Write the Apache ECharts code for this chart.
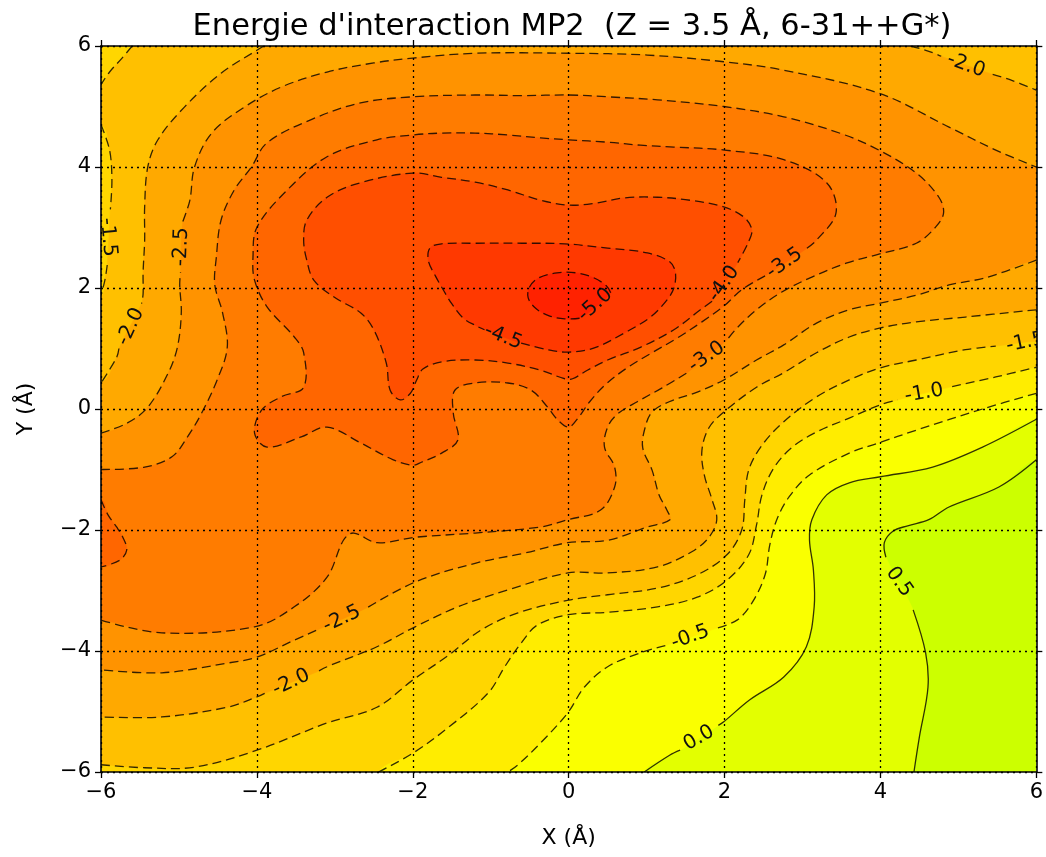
<!DOCTYPE html>
<html>
<head>
<meta charset="utf-8">
<script src="https://cdn.jsdelivr.net/npm/echarts@6/dist/echarts.min.js"></script>
<style>
html,body{margin:0;padding:0;background:#fff;}
#chart{width:1046px;height:857px;}
</style>
</head>
<body>
<div id="chart"></div>
<script>
// Axis ticks (Å)
const X_TICKS = [-6, -4, -2, 0, 2, 4, 6];
const Y_TICKS = [-6, -4, -2, 0, 2, 4, 6];

// Contour levels (kcal/mol) and the fill colour of each band, lowest band first
const LEVELS = [-5.0, -4.5, -4.0, -3.5, -3.0, -2.5, -2.0, -1.5, -1.0, -0.5, 0.0, 0.5];
const BAND_COLORS = ['#ff2200', '#ff3900', '#ff4f00', '#ff6600', '#ff7c00', '#ff9300',
  '#ffa900', '#ffc000', '#ffd600', '#ffed00', '#faff00', '#e3ff00', '#ccff00'];

// Contour lines in (X, Y) Å; null marks the gap left for an inline label
const C_M50 = [[0.14,1.5],[-0.05,1.49],[-0.25,1.54],[-0.42,1.66],[-0.52,1.84],[-0.5,2.02],[-0.38,2.17],[-0.15,2.25],[0.1,2.25],[0.32,2.17],[0.48,2.04],[0.54,1.92],null];
const C_M45 = [[-0.61,1.09],[-0.27,0.98],[0.0,0.94],[0.33,1.01],[0.72,1.26],[1.05,1.52],[1.26,1.8],[1.35,2.0],[1.37,2.25],[1.3,2.43],[1.01,2.58],[0.5,2.66],[-0.05,2.73],[-0.6,2.74],[-1.2,2.74],[-1.63,2.73],[-1.78,2.66],[-1.8,2.45],[-1.71,2.2],[-1.6,1.95],[-1.5,1.74],[-1.35,1.5],[-1.18,1.37],[-1.08,1.31],null];
const C_M40 = [[1.84,1.78],[1.69,1.64],[1.35,1.31],[0.92,1.02],[0.5,0.81],[0.24,0.64],[0.05,0.5],[-0.05,0.5],[-0.36,0.64],[-0.78,0.76],[-1.2,0.81],[-1.63,0.78],[-1.87,0.66],[-1.95,0.48],[-2.03,0.26],[-2.16,0.15],[-2.29,0.31],[-2.34,0.76],[-2.5,1.31],[-2.67,1.59],[-3.01,1.85],[-3.27,2.13],[-3.36,2.46],[-3.4,2.79],[-3.36,3.12],[-3.1,3.5],[-2.67,3.74],[-2.0,3.9],[-1.63,3.83],[-1.2,3.75],[-0.78,3.62],[-0.36,3.45],[0.0,3.37],[0.33,3.4],[0.72,3.49],[1.14,3.5],[1.56,3.45],[1.99,3.34],[2.25,3.17],[2.35,2.96],[2.3,2.74],[2.17,2.42],null];
const C_M35 = [[2.52,2.2],[2.22,1.97],[1.99,1.7],[1.71,1.44],[1.39,1.17],[1.07,0.93],[0.75,0.68],[0.47,0.4],[0.27,0.12],[0.12,-0.15],[0.0,-0.3],[-0.14,-0.18],[-0.27,0.03],[-0.48,0.31],[-0.78,0.43],[-1.2,0.43],[-1.46,0.31],[-1.48,-0.07],[-1.42,-0.51],[-1.63,-0.73],[-1.89,-0.88],[-2.0,-0.93],[-2.25,-0.84],[-2.67,-0.56],[-3.1,-0.3],[-3.43,-0.46],[-3.87,-0.63],[-4.03,-0.4],[-3.94,-0.02],[-3.69,0.2],[-3.4,0.36],[-3.4,0.93],[-3.52,1.19],[-3.87,1.69],[-4.03,2.13],[-4.05,2.51],[-4.0,3.0],[-3.61,3.62],[-3.1,4.17],[-2.46,4.45],[-2.0,4.53],[-1.63,4.56],[-1.2,4.56],[-0.78,4.53],[-0.36,4.48],[0.0,4.45],[0.5,4.41],[0.92,4.36],[1.35,4.33],[2.0,4.28],[2.76,4.12],[3.31,3.74],[3.43,3.24],[3.18,2.79],[3.05,2.65],null];
const C_M35_EDGE = [[-6,-1.5],[-5.91,-1.75],[-5.8,-1.95],[-5.72,-2.12],[-5.67,-2.33],[-5.76,-2.5],[-6,-2.61]];
const C_M30 = [[-6,-1.0],[-5.44,-0.96],[-5.09,-0.79],[-4.89,-0.46],[-4.71,-0.07],[-4.51,0.48],[-4.38,1.02],[-4.44,1.59],[-4.54,2.05],[-4.52,2.51],[-4.46,3.12],[-4.29,3.62],[-4.07,4.0],[-3.87,4.4],[-3.31,4.78],[-2.67,5.06],[-2.0,5.16],[-1.2,5.19],[-0.6,5.18],[0,5.19],[0.5,5.16],[1.14,5.11],[1.99,5.0],[2.76,4.83],[3.5,4.55],[3.98,4.28],[4.46,3.9],[4.75,3.5],[4.81,3.24],[4.71,3.01],[4.46,2.74],[3.98,2.56],[3.56,2.41],[3.12,2.18],[2.73,1.93],[2.41,1.64],[2.16,1.34],[2.03,1.14],null,[1.51,0.59],[1.2,0.35],[0.88,0.12],[0.63,-0.08],[0.5,-0.3],[0.46,-0.63],[0.59,-0.96],[0.59,-1.29],[0.41,-1.67],[-0.01,-1.83],[-0.36,-1.95],[-1.2,-2.05],[-1.97,-2.12],[-2.46,-2.21],[-2.76,-2.05],[-2.89,-2.17],[-3.1,-2.78],[-3.52,-3.27],[-4.03,-3.6],[-5.22,-3.7],[-6,-3.49]];
const C_M25_UP = [[-6,-0.4],[-5.66,-0.23],[-5.4,0.03],[-5.14,0.59],[-5.02,1.02],[-4.97,1.59],[-4.99,2.05],[-4.98,2.26],null,[-4.95,3.1],[-4.86,3.45],[-4.8,4.0],[-4.58,4.56],[-4.16,4.99],[-3.69,5.32],[-3.1,5.57],[-2.5,5.72],[-2.0,5.8],[-1.2,5.88],[0,5.88],[1.01,5.85],[1.99,5.74],[2.76,5.6],[3.98,5.22],[4.88,4.66],[5.48,4.28],[6,4.0]];
const C_M25_LOW = [[6,2.46],[5.35,2.17],[4.88,2.05],[4.46,1.88],[4.0,1.75],[3.6,1.64],[3.18,1.42],[2.76,1.06],[2.41,0.81],[1.99,0.48],[1.65,0.28],[1.29,0.12],[1.07,-0.05],[0.98,-0.31],[0.95,-0.64],[1.07,-1.01],[1.16,-1.42],[1.26,-1.67],[1.3,-1.83],[1.01,-1.95],[0.5,-2.17],[-0.01,-2.21],[-0.56,-2.38],[-1.2,-2.55],[-1.97,-2.86],[-2.58,-3.28],null,[-3.24,-3.66],[-3.52,-3.82],[-4.0,-4.1],[-4.38,-4.2],[-5.22,-4.36],[-6,-4.31]];
const C_M20_TL = [[-3.91,6],[-4.0,5.93],[-4.46,5.55],[-4.93,4.99],[-5.27,4.45],[-5.4,4.0],[-5.44,3.34],[-5.44,2.79],[-5.46,2.25],[-5.46,1.9],[-5.48,1.74],null,[-5.77,1.0],[-5.8,0.85],[-6,0.43]];
const C_M20_TR = [[4.39,6],[4.65,5.9],[4.78,5.83],null,[5.44,5.53],[5.67,5.44],[6,5.27]];
const C_M20_LOW = [[6,1.64],[5.09,1.52],[4.46,1.44],[4.0,1.34],[3.6,1.19],[3.18,0.93],[2.76,0.6],[2.41,0.36],[1.99,-0.05],[1.8,-0.31],[1.71,-0.68],[1.74,-1.09],[1.84,-1.5],[1.9,-1.83],[1.8,-2.12],[1.58,-2.36],[1.14,-2.61],[0.5,-2.71],[-0.01,-2.71],[-0.78,-2.99],[-1.42,-3.27],[-1.97,-3.6],[-2.46,-3.93],[-3.1,-4.26],[-3.22,-4.34],null,[-3.9,-4.7],[-4.0,-4.76],[-4.38,-4.93],[-5.22,-5.09],[-6,-5.09]];
const C_M15_CORNER = [[-5.6,6],[-5.73,5.8],[-5.89,5.57],[-6,5.36]];
const C_M15_EDGE = [[-6,4.7],[-5.89,4.28],[-5.86,3.79],[-5.88,3.3],null,[-5.92,2.38],[-5.95,2.13],[-6,1.88]];
const C_M15 = [[-6,-5.88],[-5.44,-5.93],[-4.8,-5.92],[-4.0,-5.64],[-3.1,-5.19],[-2.46,-4.93],[-2.0,-4.48],[-1.54,-4.07],[-1.12,-3.65],[-0.65,-3.37],[0,-3.16],[0.5,-3.07],[1.14,-2.96],[1.65,-2.74],[2.03,-2.41],[2.22,-2.0],[2.26,-1.5],[2.31,-1.01],[2.48,-0.6],[2.76,-0.21],[3.18,0.2],[3.6,0.48],[4.0,0.68],[4.46,0.81],[5.09,0.98],[5.48,1.04],null,[6,1.12]];
const C_M10 = [[-2.44,-6],[-2.0,-5.69],[-1.54,-5.26],[-1.03,-4.69],[-0.82,-4.26],[-0.61,-3.87],[-0.4,-3.57],[0,-3.4],[0.5,-3.36],[1.14,-3.27],[1.65,-3.11],[2.03,-2.83],[2.31,-2.41],[2.41,-1.92],[2.48,-1.42],[2.63,-0.98],[2.86,-0.64],[3.18,-0.38],[3.6,-0.15],[4.0,0.07],[4.22,0.15],null,[4.92,0.37],[5.48,0.53],[6,0.69]];
const C_M05 = [[6,0.26],[5.31,0.0],[4.46,-0.35],[3.98,-0.56],[3.6,-0.73],[3.09,-1.09],[2.83,-1.45],[2.67,-1.83],[2.58,-2.25],[2.52,-2.74],[2.35,-3.21],[2.16,-3.49],[1.88,-3.63],null,[1.24,-3.91],[0.92,-4.03],[0.5,-4.26],[0.2,-4.6],[-0.01,-5.02],[-0.36,-5.52],[-0.65,-5.88],[-0.78,-6]];
const C_P00 = [[6,-0.17],[5.31,-0.63],[4.67,-0.96],[4.0,-1.12],[3.6,-1.22],[3.31,-1.42],[3.12,-1.83],[3.09,-2.17],[3.14,-2.66],[3.15,-3.27],[3.05,-3.93],[2.76,-4.43],[2.32,-4.81],[1.99,-5.17],[1.92,-5.23],null,[1.43,-5.64],[1.3,-5.72],[0.97,-6]];
const C_P05 = [[6,-0.84],[5.52,-1.29],[4.88,-1.62],[4.62,-1.83],[4.35,-1.93],[4.16,-2.02],[4.05,-2.21],[4.07,-2.45],null,[4.42,-3.32],[4.58,-4.03],[4.61,-4.6],[4.5,-5.42],[4.43,-6]];

// Which level each drawn line belongs to
const LINES = [
  [-5.0, C_M50], [-4.5, C_M45], [-4.0, C_M40], [-3.5, C_M35], [-3.5, C_M35_EDGE],
  [-3.0, C_M30], [-2.5, C_M25_UP], [-2.5, C_M25_LOW], [-2.0, C_M20_TL], [-2.0, C_M20_TR],
  [-2.0, C_M20_LOW], [-1.5, C_M15_CORNER], [-1.5, C_M15_EDGE], [-1.5, C_M15],
  [-1.0, C_M10], [-0.5, C_M05], [0.0, C_P00], [0.5, C_P05]
];

// Inline contour labels: value, anchor (X, Y) on the line, angle in degrees
const LABEL_VALUES = [-5.0, -4.5, -4.0, -3.5, -3.0, -2.5, -2.5, -2.0, -2.0, -2.0, -1.5, -1.5, -1.0, -0.5, 0.0, 0.5];
const LABEL_ANCHORS = [[0.34,1.72],[-0.84,1.19],[1.99,2.07],[2.77,2.41],[1.77,0.86],[-4.97,2.68],[-2.91,-3.47],[-5.62,1.36],[5.1,5.68],[-3.56,-4.52],[-5.91,2.84],[5.86,1.1],[4.56,0.26],[1.56,-3.77],[1.67,-5.44],[4.24,-2.86]];
const LABEL_ANGLES = [42, -22, 55, 35, 35, 88, 25, 65, -20, 25, -85, 12, 10, 20, 30, -55];

const FAR = 6.8;   // a point beyond the frame; the series is clipped to the plot
const rev = a => a.slice().reverse();
const ring = (...parts) => parts.reduce((acc, p) => acc.concat(p.filter(q => q)), []);

// Regions below each level, painted from the highest level down
const FILLS = [
  [11, [ring(C_P05, [[4.43,-FAR],[-FAR,-FAR],[-FAR,FAR],[FAR,FAR],[FAR,-0.84]])]],
  [10, [ring(C_P00, [[0.97,-FAR],[-FAR,-FAR],[-FAR,FAR],[FAR,FAR],[FAR,-0.17]])]],
  [9,  [ring(C_M05, [[-0.78,-FAR],[-FAR,-FAR],[-FAR,FAR],[FAR,FAR],[FAR,0.26]])]],
  [8,  [ring(C_M10, [[FAR,0.69],[FAR,FAR],[-FAR,FAR],[-FAR,-FAR],[-2.44,-FAR]])]],
  [7,  [ring(C_M15, [[FAR,1.12],[FAR,FAR],[-5.6,FAR]], C_M15_CORNER, [[-FAR,5.36],[-FAR,4.7]], C_M15_EDGE, [[-FAR,1.88],[-FAR,-5.88]])]],
  [6,  [ring(C_M20_LOW, [[-FAR,-5.09],[-FAR,0.43]], rev(C_M20_TL), [[-3.91,FAR],[4.39,FAR]], C_M20_TR, [[FAR,5.27],[FAR,1.64]])]],
  [5,  [ring(C_M25_UP, [[FAR,4.0],[FAR,2.46]], C_M25_LOW, [[-FAR,-4.31],[-FAR,-0.4]])]],
  [4,  [ring(C_M30, [[-FAR,-3.49],[-FAR,-1.0]])]],
  [3,  [ring(C_M35), ring(C_M35_EDGE, [[-FAR,-2.61],[-FAR,-1.5]])]],
  [2,  [ring(C_M40)]],
  [1,  [ring(C_M45)]],
  [0,  [ring(C_M50)]]
];

const SMOOTH = 0.35;
const FONT = '"DejaVu Sans", "Liberation Sans", sans-serif';
const minus = v => (v < 0 ? '\u2212' + Math.abs(v) : String(v));

function splitPieces(pts) {
  const pieces = [];
  let cur = [];
  for (const p of pts) {
    if (p) cur.push(p); else { if (cur.length > 1) pieces.push(cur); cur = []; }
  }
  if (cur.length > 1) pieces.push(cur);
  return pieces;
}

function renderContours(params, api) {
  const cs = params.coordSys;
  const children = [{
    type: 'rect', shape: { x: cs.x, y: cs.y, width: cs.width, height: cs.height },
    style: { fill: BAND_COLORS[BAND_COLORS.length - 1] }
  }];
  for (const [band, rings] of FILLS) {
    for (const r of rings) {
      children.push({
        type: 'polygon',
        shape: { points: r.map(p => api.coord(p)), smooth: SMOOTH },
        style: { fill: BAND_COLORS[band], stroke: BAND_COLORS[band], lineWidth: 0.6 }
      });
    }
  }
  for (const [lv, pts] of LINES) {
    for (const piece of splitPieces(pts)) {
      children.push({
        type: 'polyline',
        shape: { points: piece.map(p => api.coord(p)), smooth: SMOOTH },
        style: { stroke: 'rgba(0,0,0,0.8)', lineWidth: 1.3, fill: 'none', lineDash: lv < 0 ? [9, 5] : null }
      });
    }
  }
  LABEL_VALUES.forEach((v, i) => {
    const pt = api.coord(LABEL_ANCHORS[i]);
    children.push({
      type: 'text', x: pt[0], y: pt[1], rotation: LABEL_ANGLES[i] * Math.PI / 180,
      style: { text: v.toFixed(1), fill: '#111', font: '20px ' + FONT,
        textAlign: 'center', textVerticalAlign: 'middle', align: 'center', verticalAlign: 'middle' }
    });
  });
  return { type: 'group', children };
}

const axisCommon = {
  type: 'value', min: -6, max: 6, interval: 2, z: 5,
  axisLine: { show: true, onZero: false, lineStyle: { color: '#000', width: 1.6 } },
  axisTick: { show: true, inside: false, length: 6, lineStyle: { color: '#000', width: 1.3 } }
};
const gridDots = { show: true, lineStyle: { color: '#000', width: 1.3, type: [2, 4] } };
const tickLabel = { margin: 10, fontSize: 21, color: '#000', fontFamily: FONT, formatter: minus };
const nameStyle = { fontSize: 22, color: '#000', fontFamily: FONT };

const chart = echarts.init(document.getElementById('chart'), null, { renderer: 'canvas' });
chart.setOption({
  animation: false,
  backgroundColor: '#fff',
  title: {
    text: "Energie d'interaction MP2  (Z = 3.5 Å, 6-31++G*)",
    left: 567, top: 7, textAlign: 'center',
    textStyle: { fontFamily: FONT, fontSize: 30.5, fontWeight: 'normal', color: '#000' }
  },
  grid: { left: 101, right: 5, top: 46, bottom: 85, containLabel: false },
  xAxis: [
    Object.assign({}, axisCommon, { position: 'bottom', axisLabel: tickLabel, splitLine: gridDots,
      name: 'X (Å)', nameLocation: 'middle', nameGap: 55, nameTextStyle: nameStyle }),
    Object.assign({}, axisCommon, { position: 'top', axisLabel: { show: false }, splitLine: { show: false } })
  ],
  yAxis: [
    Object.assign({}, axisCommon, { position: 'left', axisLabel: tickLabel, splitLine: gridDots,
      name: 'Y (Å)', nameLocation: 'middle', nameGap: 64, nameTextStyle: nameStyle }),
    Object.assign({}, axisCommon, { position: 'right', axisLabel: { show: false }, splitLine: { show: false } })
  ],
  series: [{
    type: 'custom', coordinateSystem: 'cartesian2d', xAxisIndex: 0, yAxisIndex: 0,
    data: [[0, 0]], clip: true, silent: true, z: 2,
    renderItem: renderContours
  }]
});
</script>
</body>
</html>
